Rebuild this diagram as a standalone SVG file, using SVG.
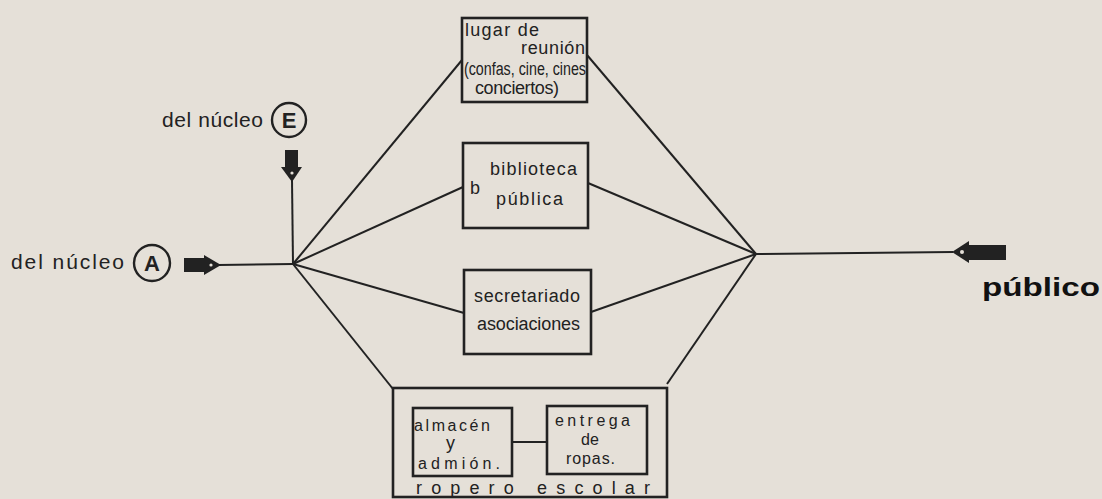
<svg xmlns="http://www.w3.org/2000/svg" width="1102" height="499" viewBox="0 0 1102 499">
<style>
.bg{fill:#e5e0d8}
.box{fill:none;stroke:#222;stroke-width:2.6}
.ln{fill:none;stroke:#222;stroke-width:2}
.ink{fill:#222}
.t{font-family:"Liberation Sans","DejaVu Sans",sans-serif;font-size:18px;fill:#222}
.s{font-size:16px}
.lab{font-family:"Liberation Sans","DejaVu Sans",sans-serif;font-size:21px;fill:#222}
.pub{font-family:"Liberation Sans","DejaVu Sans",sans-serif;font-size:26px;font-weight:bold;fill:#111}
.circ{fill:none;stroke:#222;stroke-width:2.4}
.letter{font-family:"Liberation Sans","DejaVu Sans",sans-serif;font-size:22px;font-weight:bold;fill:#222}
</style>
<rect class="bg" x="0" y="0" width="1102" height="499"/>

<g id="connectors">
  <line class="ln" x1="218" y1="265" x2="293" y2="264"/>
  <line class="ln" x1="292" y1="180" x2="293" y2="264"/>
  <line class="ln" x1="293" y1="264" x2="462" y2="60"/>
  <line class="ln" x1="293" y1="264" x2="463" y2="187"/>
  <line class="ln" x1="293" y1="264" x2="464" y2="313"/>
  <line class="ln" x1="293" y1="264" x2="393" y2="389"/>
  <line class="ln" x1="756" y1="254" x2="587" y2="55"/>
  <line class="ln" x1="756" y1="254" x2="588" y2="183"/>
  <line class="ln" x1="756" y1="254" x2="591" y2="312"/>
  <line class="ln" x1="756" y1="254" x2="667" y2="384"/>
  <line class="ln" x1="756" y1="254" x2="953" y2="252"/>
  <line class="ln" x1="512" y1="442" x2="547" y2="442"/>
  <rect class="ink" x="184" y="258" width="23" height="14"/>
  <polygon class="ink" points="204,255 221,265 204,275"/>
  <circle cx="211" cy="265" r="1.6" fill="#e5e0d8"/>
  <rect class="ink" x="285" y="150" width="13" height="20"/>
  <polygon class="ink" points="281,167 302,167 292,182"/>
  <circle cx="292" cy="173" r="1.6" fill="#e5e0d8"/>
  <rect class="ink" x="966" y="245" width="40" height="15"/>
  <polygon class="ink" points="952,252 969,241 969,263"/>
  <circle cx="962" cy="252" r="2" fill="#e5e0d8"/>
</g>

<g id="nucleo-A">
  <text class="lab" x="11" y="269" textLength="113">del núcleo</text>
  <circle class="circ" cx="152" cy="263" r="18"/>
  <text class="letter" x="152" y="271" text-anchor="middle">A</text>
</g>

<g id="nucleo-E">
  <text class="lab" x="162" y="127" textLength="101">del núcleo</text>
  <circle class="circ" cx="289" cy="120" r="17"/>
  <text class="letter" x="289" y="128" text-anchor="middle">E</text>
</g>

<g id="lugar-reunion">
  <rect class="box" x="462" y="18" width="125" height="84"/>
  <text class="t" x="465" y="36" font-size="15" textLength="74">lugar de</text>
  <text class="t" x="521" y="54" font-size="15" textLength="64">reunión</text>
  <text class="t" x="464" y="75" font-size="15" textLength="122" lengthAdjust="spacingAndGlyphs">(confas, cine, cines</text>
  <text class="t" x="475" y="94" font-size="14" textLength="84">conciertos)</text>
</g>

<g id="biblioteca">
  <rect class="box" x="463" y="143" width="125" height="85"/>
  <text class="t" x="470" y="194" font-size="22">b</text>
  <text class="t" x="490" y="175" textLength="87">biblioteca</text>
  <text class="t" x="496" y="205" textLength="67">pública</text>
</g>

<g id="secretariado">
  <rect class="box" x="464" y="270" width="127" height="84"/>
  <text class="t" x="474" y="302" textLength="106">secretariado</text>
  <text class="t" x="477" y="330" textLength="103">asociaciones</text>
</g>

<g id="ropero-escolar">
  <rect class="box" x="393" y="388" width="274" height="109"/>
  <text class="t" x="416" y="494" font-size="17" textLength="234">ropero escolar</text>
</g>

<g id="almacen">
  <rect class="box" x="413" y="408" width="99" height="68"/>
  <text class="t s" x="414" y="431" textLength="76">almacén</text>
  <text class="t" x="446" y="449" font-size="14">y</text>
  <text class="t s" x="418" y="469" textLength="82">admión.</text>
</g>

<g id="entrega-ropas">
  <rect class="box" x="547" y="406" width="100" height="68"/>
  <text class="t s" x="555" y="426" textLength="75">entrega</text>
  <text class="t s" x="581" y="445">de</text>
  <text class="t s" x="566" y="464" textLength="49">ropas.</text>
</g>

<g id="publico">
  <text class="pub" x="982" y="296" textLength="118" lengthAdjust="spacingAndGlyphs">público</text>
</g>
</svg>
